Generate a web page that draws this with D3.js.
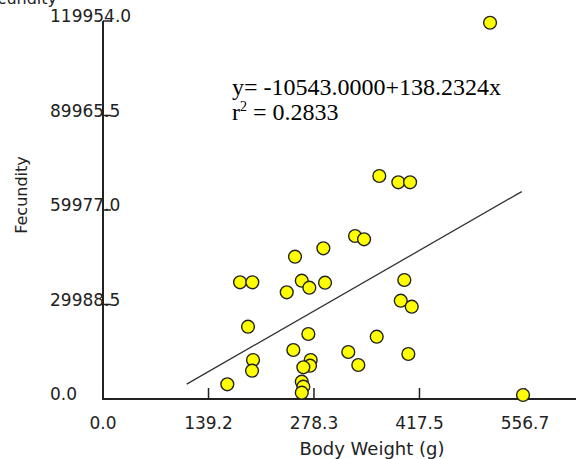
<!DOCTYPE html>
<html>
<head>
<meta charset="utf-8">
<script src="https://cdn.jsdelivr.net/npm/d3@7"></script>
<style>
  body { margin: 0; background: #fff; }
  svg { display: block; }
  .tick-label { font-family: "DejaVu Sans", sans-serif; font-size: 17px; fill: #222; }
  .axis-title { font-family: "DejaVu Sans", sans-serif; fill: #222; }
  .eq { font-family: "Liberation Serif", "Times New Roman", serif; font-size: 24px; fill: #000; }
</style>
</head>
<body>
<svg id="chart" width="576" height="459"></svg>
<script>
// body weight (g) vs fecundity
var weight = [510.6, 364.5, 389.6, 405.1, 332.5, 344.4, 290.7, 253.3, 180.8, 197.0,
              262.2, 272.2, 292.9, 242.4, 397.5, 392.8, 407.3, 191.3, 270.9, 361.1,
              251.1, 323.6, 402.8, 197.9, 196.6, 274.0, 273.1, 264.3, 336.8, 164.0,
              262.2, 264.3, 262.2, 554.1];
var fecundity = [119400, 70770, 68770, 68770, 51730, 50680, 47820, 45160, 37030, 37030,
                 37540, 35320, 36910, 33860, 37760, 31190, 29290, 22940, 20630, 19770,
                 15550, 14920, 14280, 12380, 8980, 12380, 10570, 10060, 10790, 4670,
                 5490, 3900, 2000, 1270];

var xTicks = [0.0, 139.2, 278.3, 417.5, 556.7];
var yTicks = [0.0, 29988.5, 59977.0, 89965.5, 119954.0];

// fitted line y = a + b x
var intercept = -10543.0;
var slope = 138.2324;
var r2 = 0.2833;
var fitRange = [110.4, 552.4];

var svg = d3.select("#chart");

var x = d3.scaleLinear().domain([0, 556.7]).range([103, 525]);
var y = d3.scaleLinear().domain([0, 119954]).range([399, 21]);
var fmt = d3.format(".1f");

// heading cut off at the very top, as in the source picture
svg.append("text")
    .attr("class", "axis-title")
    .attr("x", 57).attr("y", 4)
    .attr("text-anchor", "end")
    .style("font-size", "16px")
    .text("Fecundity");

// axes lines
svg.append("line")
    .attr("x1", x(0)).attr("x2", 580)
    .attr("y1", y(0)).attr("y2", y(0))
    .attr("stroke", "#222").attr("stroke-width", 2);
svg.append("line")
    .attr("x1", x(0)).attr("x2", x(0))
    .attr("y1", y(0) + 1).attr("y2", y(119954))
    .attr("stroke", "#222").attr("stroke-width", 2);

// x ticks (inside, going up)
svg.selectAll(".xt").data(xTicks).enter().append("line")
    .attr("x1", function(d){ return x(d); })
    .attr("x2", function(d){ return x(d); })
    .attr("y1", y(0)).attr("y2", y(0) - 11)
    .attr("stroke", "#222").attr("stroke-width", 1.5);
svg.selectAll(".xl").data(xTicks).enter().append("text")
    .attr("class", "tick-label")
    .attr("x", function(d){ return x(d); })
    .attr("y", 429)
    .attr("text-anchor", "middle")
    .text(fmt);

// y ticks (inside, going right)
svg.selectAll(".yt").data(yTicks).enter().append("line")
    .attr("x1", x(0)).attr("x2", x(0) + 8)
    .attr("y1", function(d){ return y(d); })
    .attr("y2", function(d){ return y(d); })
    .attr("stroke", "#222").attr("stroke-width", 1.5);
svg.selectAll(".yl").data(yTicks).enter().append("text")
    .attr("class", "tick-label")
    .attr("x", 50)
    .attr("y", function(d){ return y(d) + 1; })
    .text(fmt);

// axis titles
svg.append("text")
    .attr("class", "axis-title")
    .attr("x", 372).attr("y", 455)
    .attr("text-anchor", "middle")
    .style("font-size", "18px")
    .text("Body Weight (g)");
svg.append("text")
    .attr("class", "axis-title")
    .attr("transform", "translate(27,195) rotate(-90)")
    .attr("text-anchor", "middle")
    .style("font-size", "16px")
    .text("Fecundity");

// regression line
var line = d3.line()
    .x(function(d){ return x(d); })
    .y(function(d){ return y(intercept + slope * d); });
svg.append("path")
    .datum(fitRange)
    .attr("d", line)
    .attr("fill", "none")
    .attr("stroke", "#333")
    .attr("stroke-width", 1.3);

// points
svg.selectAll(".pt").data(weight).enter().append("circle")
    .attr("cx", function(d){ return x(d); })
    .attr("cy", function(d, i){ return y(fecundity[i]); })
    .attr("r", 6.4)
    .attr("fill", "#ffff00")
    .attr("stroke", "#222")
    .attr("stroke-width", 1.4);

// equation
var eq = svg.append("text").attr("class", "eq").attr("x", 232).attr("y", 95);
eq.text("y= " + intercept.toFixed(4) + "+" + slope.toFixed(4) + "x");
var rt = svg.append("text").attr("class", "eq").attr("x", 232).attr("y", 120);
rt.append("tspan").text("r");
rt.append("tspan").attr("dy", -9).style("font-size", "14px").text("2");
rt.append("tspan").attr("dy", 9).text(" = " + r2.toFixed(4));
</script>
</body>
</html>
